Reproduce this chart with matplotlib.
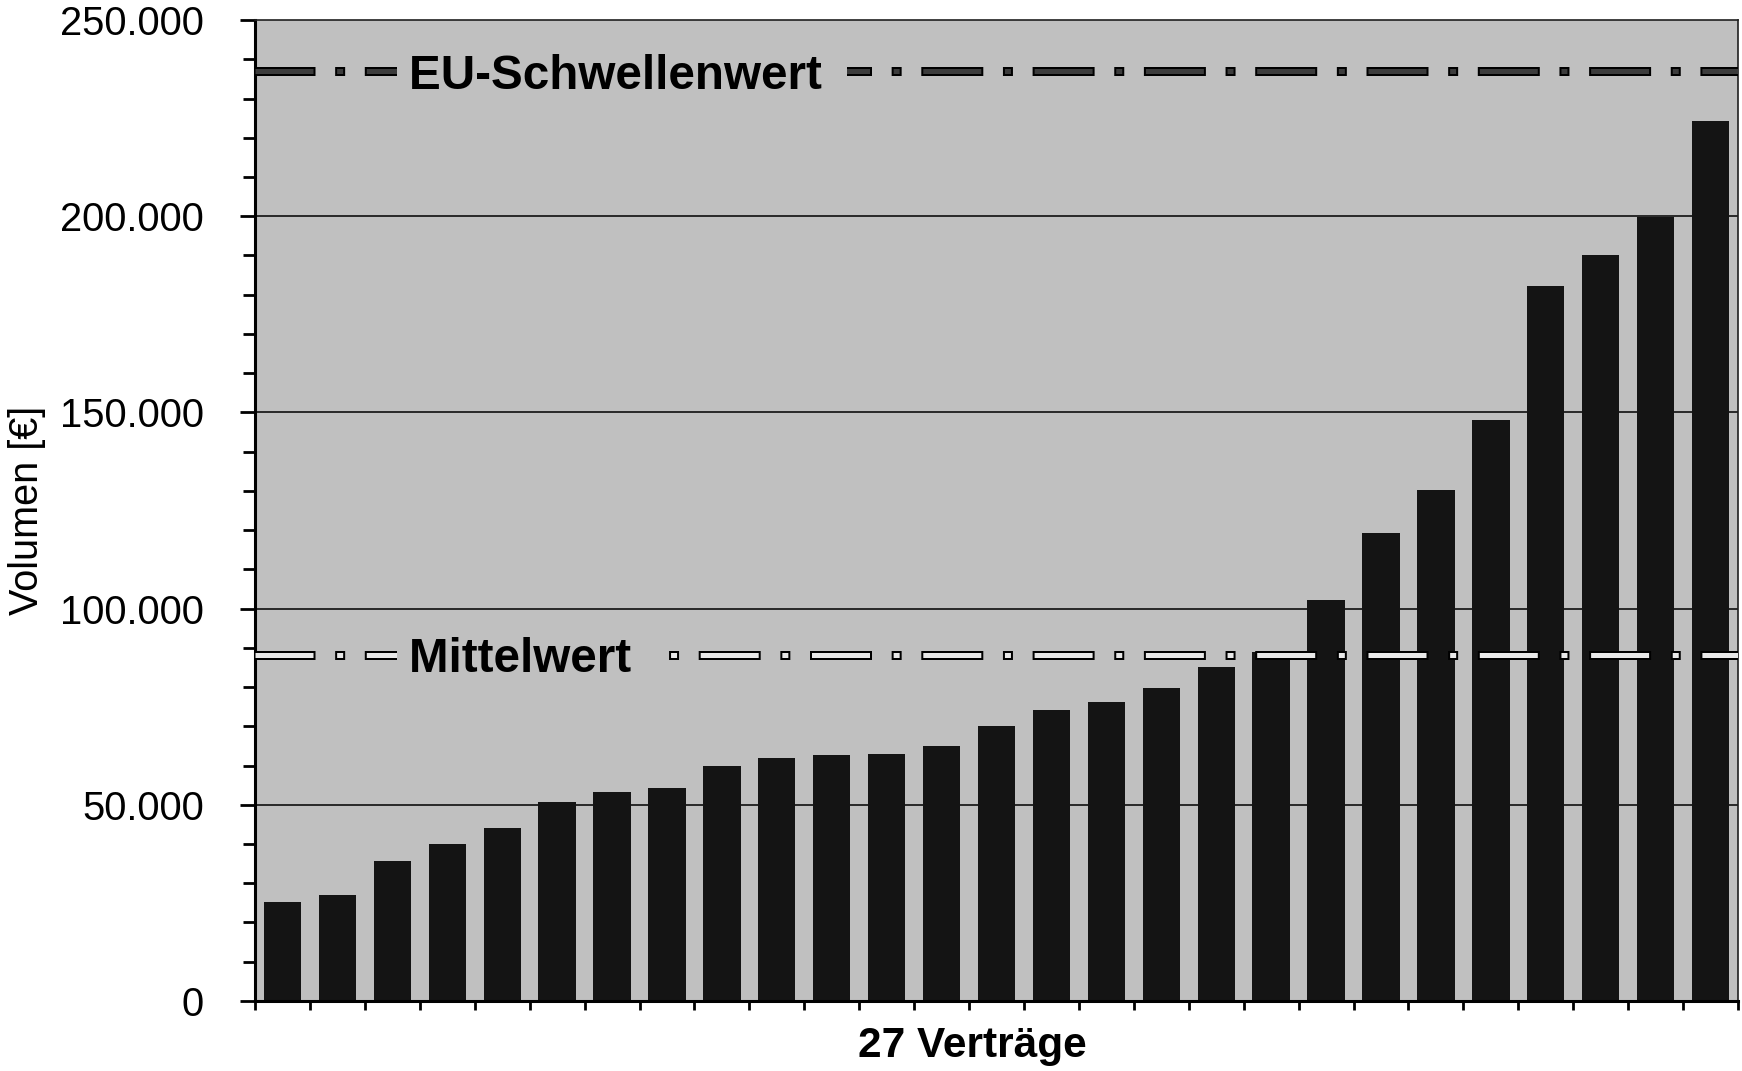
## Vertragsvolumen der 27 Verträge mit Mittelwert und EU-Schwellenwert
import numpy as np
import matplotlib
matplotlib.use("Agg")
from matplotlib import pyplot as plt
from matplotlib.ticker import MultipleLocator, FuncFormatter
import matplotlib.transforms as mtransforms

plt.rcParams['font.family'] = ['Liberation Sans', 'DejaVu Sans']
plt.rcParams['lines.scale_dashes'] = False

# Daten (EUR)
volumen = [25200, 27000, 35700, 39900, 44200, 50700, 53200, 54400, 60000,
           62000, 62600, 62900, 65100, 70200, 74200, 76200, 79800, 85200,
           88900, 102200, 119200, 130200, 148100, 182300, 190000, 199900, 224200]
mittelwert = 88200
eu_schwelle = 237000
linien_text = ["EU-Schwellenwert", "Mittelwert"]
linien_wert = [eu_schwelle, mittelwert]
linien_farbe = ["#3c3c3c", "#e8e8e8"]
y_ticks = [0, 50000, 100000, 150000, 200000, 250000]

n = len(volumen)
x = np.arange(n)

fig = plt.figure(figsize=(17.42, 10.71), dpi=100)
ax = fig.add_axes([0.1464, 0.0654, 0.8513, 0.9159])
ax.set_facecolor("#c0c0c0")

# grid behind bars
for yt in y_ticks[1:-1]:
    ax.axhline(yt, color="black", lw=1.1, zorder=1)

ax.bar(x, volumen, width=0.68, color="#141414", zorder=2)

# dash-dot lines with black outline (px -> pt = 0.72)
k = 0.72
inner = (0, (58*k, 23.65*k, 6*k, 23.65*k))
outer = (2*k, (62*k, 19.65*k, 10*k, 19.65*k))
trans = mtransforms.blended_transform_factory(ax.transAxes, ax.transData)
for txt, val, col in zip(linien_text, linien_wert, linien_farbe):
    ax.axhline(val, color="black", lw=9*k, linestyle=outer,
               dash_capstyle="butt", zorder=3)
    ax.axhline(val, color=col, lw=5*k, linestyle=inner,
               dash_capstyle="butt", zorder=4)
    ax.text(0.1035, val, txt + "\u00a0", transform=trans, fontsize=34.3,
            fontweight="bold", ha="left", va="center_baseline", zorder=5,
            bbox=dict(boxstyle="square,pad=0.25", fc="#c0c0c0", ec="none"))

ax.set_xlim(-0.5, n - 0.5)
ax.set_ylim(0, 250000)
ax.set_xticks(np.arange(-0.5, n, 1))
ax.set_xticklabels([])
ax.set_yticks(y_ticks)
ax.yaxis.set_minor_locator(MultipleLocator(10000))
ax.yaxis.set_major_formatter(FuncFormatter(lambda v, p: f"{v:,.0f}".replace(",", ".")))

ax.tick_params(axis="y", which="major", direction="out", length=11, width=2,
               labelsize=28.7, pad=26)
ax.tick_params(axis="y", which="minor", direction="out", length=8.5, width=2)
ax.tick_params(axis="x", which="major", direction="out", length=6.5, width=2)

for s in ["left", "bottom"]:
    ax.spines[s].set_linewidth(2.2)
for s in ["top", "right"]:
    ax.spines[s].set_linewidth(1.2)
    ax.spines[s].set_color("#202020")

ax.set_xlabel("27 Verträge", fontsize=30.5, fontweight="bold")
ax.xaxis.set_label_coords(0.484, -0.026)
ax.set_ylabel("Volumen [€]", fontsize=28.5)
ax.yaxis.set_label_coords(-0.141, 0.5)

plt.savefig("out.png", dpi=100)
